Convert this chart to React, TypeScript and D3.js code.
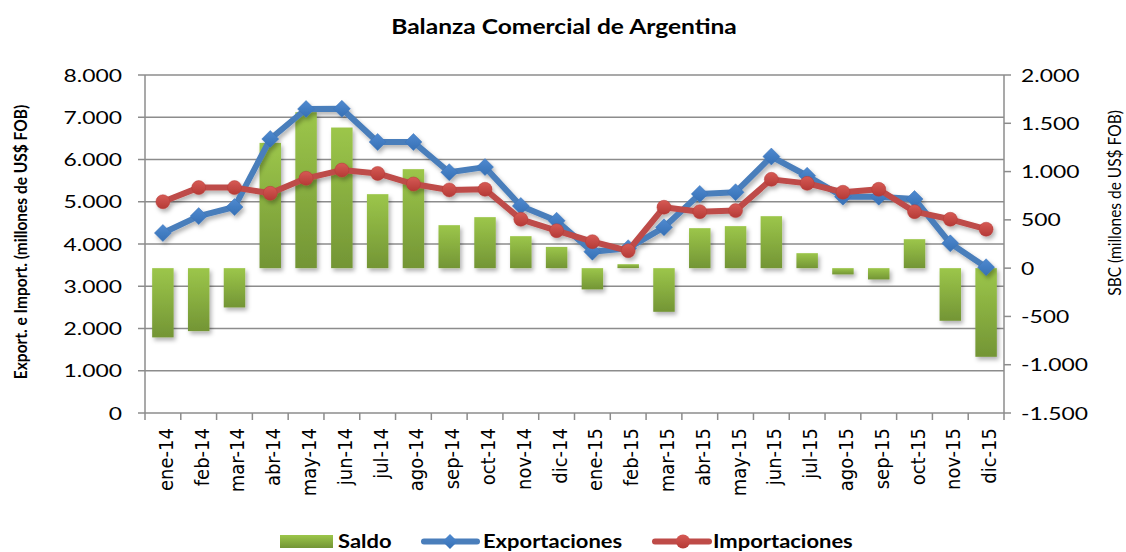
import React from "react";
import * as d3 from "d3";

const categories = ["ene-14","feb-14","mar-14","abr-14","may-14","jun-14","jul-14","ago-14","sep-14","oct-14","nov-14","dic-14","ene-15","feb-15","mar-15","abr-15","may-15","jun-15","jul-15","ago-15","sep-15","oct-15","nov-15","dic-15"];
const exportaciones = [4260,4660,4875,6485,7195,7200,6415,6415,5700,5820,4900,4550,3818,3900,4395,5185,5225,6070,5615,5120,5120,5065,4015,3450];
const importaciones = [5000,5335,5335,5200,5555,5750,5670,5420,5280,5295,4585,4315,4055,3840,4870,4765,4790,5530,5435,5225,5295,4765,4585,4350];
const saldo = [-717,-652,-407,1297,1615,1456,766,1025,445,528,331,220,-220,41,-452,414,435,538,155,-65,-117,300,-545,-918];
const leftTicks = [0,1000,2000,3000,4000,5000,6000,7000,8000];
const rightTicks = [-1500,-1000,-500,0,500,1000,1500,2000];

const W = 1126, H = 552;
const L = 145, R = 1004, T = 75, B = 413;
const fmt = (v: number) => {
  const s = Math.abs(v).toString().replace(/\B(?=(\d{3})+(?!\d))/g, ".");
  return (v < 0 ? "-" : "") + s;
};

function SText(props: { x: number; y: number; sx: number; anchor?: string; size: number; bold?: boolean; children: any; family?: string }) {
  const { x, y, sx, anchor, size, bold, children, family } = props;
  return (
    <text transform={`translate(${x},${y}) scale(${sx},1)`} textAnchor={anchor || "start"} fontSize={size} fontWeight={bold ? "bold" : "normal"} fill="#000" fontFamily={family}>
      {children}
    </text>
  );
}

export default function App() {
  const x = d3.scaleBand<string>().domain(categories).range([L, R]).paddingInner(0.4).paddingOuter(0.2);
  const xb = d3.scaleBand<string>().domain(categories).range([L, R]);
  const yL = d3.scaleLinear().domain([0, 8000]).range([B, T]);
  const yR = d3.scaleLinear().domain([-1500, 2000]).range([B, T]);
  const cx = (c: string) => (xb(c) as number) + xb.bandwidth() / 2;
  const lineE = d3.line<number>().x((_, i) => cx(categories[i])).y((d) => yL(d));
  const font = "Lato, 'Open Sans', sans-serif";
  const blue = "#4a7ebb";
  const red = "#be4b48";
  const grid = "#8c8c8c";
  const diamond = (px: number, py: number, s: number) => `M${px},${py - s} L${px + s},${py} L${px},${py + s} L${px - s},${py} Z`;
  return (
    <svg width={W} height={H} style={{ display: "block", position: "absolute", left: 0, top: 0 }} fontFamily={font}>
      <defs>
        <linearGradient id="gbar" x1="0" y1="0" x2="0" y2="1">
          <stop offset="0" stopColor="#9cc64a" />
          <stop offset="1" stopColor="#739535" />
        </linearGradient>
        <linearGradient id="gred" x1="0" y1="0" x2="0" y2="1">
          <stop offset="0" stopColor="#d65a55" />
          <stop offset="1" stopColor="#b53a36" />
        </linearGradient>
        <linearGradient id="gblue" x1="0" y1="0" x2="0" y2="1">
          <stop offset="0" stopColor="#4f8ad0" />
          <stop offset="1" stopColor="#3670b5" />
        </linearGradient>
        <filter id="sh" x="-20%" y="-20%" width="140%" height="140%">
          <feDropShadow dx="2" dy="3" stdDeviation="2" floodColor="#000" floodOpacity="0.3" />
        </filter>
      </defs>
      <rect width={W} height={H} fill="#fff" />
      <SText x={564} y={34} sx={1.17} anchor="middle" size={21} bold>Balanza Comercial de Argentina</SText>
      {/* gridlines */}
      {leftTicks.filter((t) => t > 0).map((t) => (
        <line key={t} x1={L} x2={R} y1={yL(t)} y2={yL(t)} stroke={grid} strokeWidth={1.5} />
      ))}
      {/* bars */}
      <g filter="url(#sh)">
        {saldo.map((v, i) => (
          <rect key={i} x={x(categories[i])} width={x.bandwidth()} y={Math.min(yR(v), yR(0))} height={Math.abs(yR(v) - yR(0))} fill="url(#gbar)" />
        ))}
      </g>
      {/* axes */}
      <line x1={L} x2={L} y1={T} y2={B} stroke={grid} strokeWidth={1.5} />
      <line x1={R} x2={R} y1={T} y2={B} stroke={grid} strokeWidth={1.5} />
      <line x1={L} x2={R} y1={B} y2={B} stroke={grid} strokeWidth={1.5} />
      {leftTicks.map((t) => (
        <g key={t}>
          <line x1={L - 7} x2={L} y1={yL(t)} y2={yL(t)} stroke={grid} strokeWidth={1.5} />
          <SText x={122} y={yL(t) + 6.5} sx={1.3} anchor="end" size={17.6}>{fmt(t)}</SText>
        </g>
      ))}
      {rightTicks.map((t) => (
        <g key={t}>
          <line x1={R} x2={R + 7} y1={yR(t)} y2={yR(t)} stroke={grid} strokeWidth={1.5} />
          <SText x={1021} y={yR(t) + 6.5} sx={1.3} anchor="start" size={17.6}>{fmt(t)}</SText>
        </g>
      ))}
      {categories.map((c, i) => (
        <line key={"bt" + i} x1={xb(c) as number} x2={xb(c) as number} y1={B} y2={B + 7} stroke={grid} strokeWidth={1.5} />
      ))}
      <line x1={R} x2={R} y1={B} y2={B + 7} stroke={grid} strokeWidth={1.5} />
      {categories.map((c) => (
        <text key={c} transform={`translate(${cx(c) + 10},${428}) scale(1.12,1) rotate(-90)`} textAnchor="end" fontSize={18} fontFamily="'DejaVu Sans', sans-serif" fill="#000">{c}</text>
      ))}
      <text transform={`translate(27,${242}) scale(1.1,1) rotate(-90)`} textAnchor="middle" fontSize={15.5} fontWeight="bold" fill="#000">Export. e Import. (millones de US$ FOB)</text>
      <text transform={`translate(1121,${203}) scale(1.1,1) rotate(-90)`} textAnchor="middle" fontSize={15.5} fill="#000">SBC (millones de US$ FOB)</text>
      {/* lines */}
      <g filter="url(#sh)">
        <path d={lineE(exportaciones) || ""} fill="none" stroke={blue} strokeWidth={6} strokeLinejoin="round" />
        {exportaciones.map((v, i) => (
          <path key={i} d={diamond(cx(categories[i]), yL(v), 8.5)} fill="url(#gblue)" stroke="#3a73b8" strokeWidth={0.5} />
        ))}
        <path d={lineE(importaciones) || ""} fill="none" stroke={red} strokeWidth={6} strokeLinejoin="round" />
        {importaciones.map((v, i) => (
          <circle key={i} cx={cx(categories[i])} cy={yL(v)} r={7} fill="url(#gred)" stroke="#b53a36" strokeWidth={0.5} />
        ))}
      </g>
      {/* legend */}
      <rect x={280} y={535} width={53} height={13} fill="url(#gbar)" />
      <SText x={338} y={548} sx={1.22} size={18} bold>Saldo</SText>
      <line x1={424} x2={477} y1={541.5} y2={541.5} stroke={blue} strokeWidth={6} strokeLinecap="round" />
      <path d={diamond(450, 541.5, 7.5)} fill="url(#gblue)" />
      <SText x={483} y={548} sx={1.22} size={18} bold>Exportaciones</SText>
      <line x1={655} x2={709} y1={541.5} y2={541.5} stroke={red} strokeWidth={6} strokeLinecap="round" />
      <circle cx={683} cy={541.5} r={7} fill="url(#gred)" />
      <SText x={713} y={548} sx={1.22} size={18} bold>Importaciones</SText>
    </svg>
  );
}
